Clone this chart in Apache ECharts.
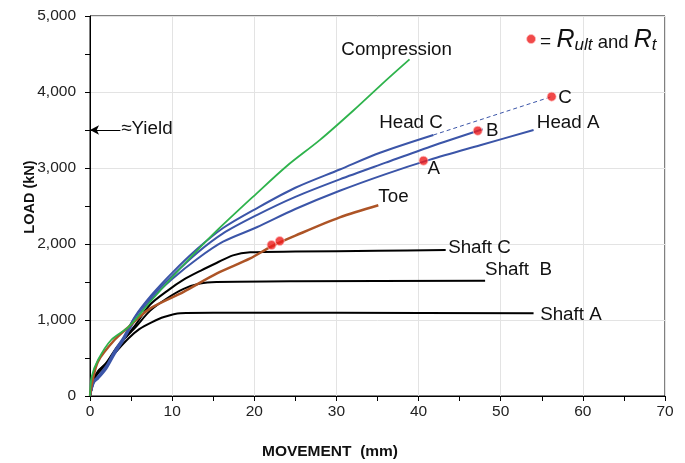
<!DOCTYPE html>
<html>
<head>
<meta charset="utf-8">
<script src="https://cdn.jsdelivr.net/npm/echarts@6/dist/echarts.min.js"></script>
<style>
html,body{margin:0;padding:0;background:#fff;}
#c{width:685px;height:463px;}
</style>
</head>
<body>
<div id="c"></div>
<script>
// ---- data (movement mm, load kN) ----
var compression = [[0,0],[0.2,250],[1,480],[2.6,740],[4.7,910],[7.5,1260],[11.6,1750],[15,2130],[20.3,2667],[24,3030],[28,3370],[32.1,3760],[36.1,4160],[38.9,4430]];
var headC = [[0,0],[0.5,200],[1,260],[2,400],[3,600],[4,760],[5.5,1050],[7.5,1330],[10,1620],[13,1930],[16.2,2210],[20.3,2470],[25,2740],[30.4,2980],[35.3,3200],[41.8,3434]];
var headCExt = [[41.8,3434],[56.2,3939]];
var headB = [[0,0],[0.5,200],[1,250],[2,380],[3,580],[4,740],[5.5,1040],[7.5,1310],[10,1580],[13,1880],[16.2,2140],[20.3,2380],[25,2620],[30.4,2850],[36,3070],[41.4,3280],[47.8,3510]];
var headA = [[0,0],[0.5,180],[1,230],[2,360],[3,550],[4,720],[5.5,1000],[7.5,1280],[10,1540],[13,1800],[16.2,2030],[20.3,2220],[25,2460],[30.4,2700],[36,2920],[41.4,3110],[47.5,3300],[54,3500]];
var toe = [[0,0],[0.3,200],[1,460],[3,740],[4.7,910],[7.3,1150],[11.4,1370],[15.4,1610],[19.5,1810],[22.1,1970],[25,2110],[30.4,2350],[35.1,2510]];
var shaftC = [[0,0],[0.5,230],[1,330],[2,430],[3.4,650],[5.5,930],[7.3,1200],[9.5,1390],[11.4,1530],[13.5,1650],[15.4,1750],[17.4,1850],[19.5,1890],[25,1900],[35,1910],[43.3,1920]];
var shaftB = [[0,0],[0.5,220],[1,320],[2,440],[3.4,660],[5.5,900],[7.3,1120],[9.3,1280],[11.4,1410],[13.4,1480],[15.4,1500],[25,1510],[48.1,1515]];
var shaftA = [[0,0],[0.5,220],[1,300],[2,420],[3,560],[4.7,760],[6,880],[7.5,970],[9,1040],[11,1090],[15,1095],[30,1095],[54,1090]];
var ultimatePoints = [[40.6,3096],[47.2,3490],[56.2,3939],[22.1,1987],[23.1,2039]];
var yieldLoad = 3500;
var yieldArrowStart = 3.7;
var xTicks = {min:0, max:70, interval:10};
var yTicks = {min:0, max:5000, interval:1000};
// annotation text anchors (data units: left edge, vertical middle)
var annotations = [
  {text:'Compression', at:[30.6,4553]},
  {text:'Head C', at:[35.2,3592]},
  {text:'Head A', at:[54.4,3592]},
  {text:'A', at:[41.1,2990]},
  {text:'B', at:[48.2,3487]},
  {text:'C', at:[57.0,3921]},
  {text:'Toe', at:[35.1,2618]},
  {text:'Shaft C', at:[43.6,1947]},
  {text:'Shaft  B', at:[48.1,1658]},
  {text:'Shaft A', at:[54.8,1066]},
  {text:'\u2248Yield', at:[3.8,3513]}
];
var legendAt = [53.7, 4697];

var FONT = '"Liberation Sans", Arial, sans-serif';
var BLUE = '#3b55a8', GREEN = '#2eb34c', BROWN = '#ad5426', RED = '#ee1c1c';

function lineSeries(name, data, color, width, extra) {
  var s = {name:name, type:'line', data:data, showSymbol:false, symbol:'none', smooth:0.3,
    lineStyle:{color:color, width:width}, z:3, silent:true, animation:false};
  for (var k in extra) s[k] = extra[k];
  return s;
}

var chart = echarts.init(document.getElementById('c'), null, {renderer:'canvas'});
var option = {
  animation:false,
  backgroundColor:'#fff',
  grid:{left:90, right:20, top:16, bottom:67, show:true, borderColor:'#000', borderWidth:1, backgroundColor:'transparent'},
  xAxis:{type:'value', min:xTicks.min, max:xTicks.max, interval:xTicks.interval,
    axisLine:{show:true, onZero:false, lineStyle:{color:'#000', width:1}},
    axisTick:{show:true, length:5, lineStyle:{color:'#000'}},
    minorTick:{show:true, splitNumber:2, length:5, lineStyle:{color:'#000'}},
    axisLabel:{color:'#222', fontSize:15.5, fontFamily:FONT, margin:8},
    splitLine:{show:true, lineStyle:{color:'#e3e3e3', width:1}}},
  yAxis:{type:'value', min:yTicks.min, max:yTicks.max, interval:yTicks.interval,
    axisLine:{show:true, onZero:false, lineStyle:{color:'#000', width:1}},
    axisTick:{show:true, length:5, lineStyle:{color:'#000'}},
    minorTick:{show:true, splitNumber:2, length:5, lineStyle:{color:'#000'}},
    axisLabel:{color:'#222', fontSize:15.5, fontFamily:FONT, margin:14,
      formatter:function(v){return v.toLocaleString('en-US');}},
    splitLine:{show:true, lineStyle:{color:'#e3e3e3', width:1}}},
  series:[
    lineSeries('Shaft A', shaftA, '#000', 2),
    lineSeries('Shaft B', shaftB, '#000', 2),
    lineSeries('Shaft C', shaftC, '#000', 2),
    lineSeries('Head A', headA, BLUE, 2),
    lineSeries('Head B', headB, BLUE, 2),
    lineSeries('Head C', headC, BLUE, 2),
    lineSeries('Head C ext', headCExt, BLUE, 1, {smooth:false, lineStyle:{color:BLUE, width:1, type:[4,3]}}),
    lineSeries('Toe', toe, BROWN, 2.5),
    lineSeries('Compression', compression, GREEN, 1.8),
    {name:'Yield', type:'line', data:[], silent:true,
      markLine:{silent:true, symbol:['none','arrow'], symbolSize:[7,9], label:{show:false},
        lineStyle:{color:'#000', width:1, type:'solid'},
        data:[[{coord:[yieldArrowStart, yieldLoad]},{coord:[0, yieldLoad]}]]}},
    {name:'Rult', type:'scatter', data:ultimatePoints.concat([legendAt]), symbolSize:9, z:5, silent:true,
      itemStyle:{color:RED, borderColor:'rgba(255,190,190,0.9)', borderWidth:1}}
  ]
};
chart.setOption(option);

var graphics = [];
annotations.forEach(function(a){
  var p = chart.convertToPixel({gridIndex:0}, a.at);
  graphics.push({type:'text', x:p[0], y:p[1], silent:true, z:10,
    style:{text:a.text, fill:'#111', font:'18.8px ' + FONT, textAlign:'left', textVerticalAlign:'middle'}});
});
var lp = chart.convertToPixel({gridIndex:0}, legendAt);
graphics.push({type:'text', x:lp[0] + 9, y:lp[1] + 1, silent:true, z:10,
  style:{text:'{eq|= }{R|R}{s|ult}{n| and }{R|R}{s|t}', textAlign:'left', textVerticalAlign:'middle',
    rich:{
      eq:{fontSize:19, fontFamily:FONT, fill:'#111', lineHeight:28, verticalAlign:'middle', padding:[3,0,0,0]},
      R:{fontSize:25, fontStyle:'italic', fontFamily:FONT, fill:'#111', lineHeight:28, verticalAlign:'middle'},
      s:{fontSize:17, fontStyle:'italic', fontFamily:FONT, fill:'#111', lineHeight:28, verticalAlign:'bottom', padding:[10,0,0,0]},
      n:{fontSize:18.5, fontFamily:FONT, fill:'#111', lineHeight:28, verticalAlign:'middle', padding:[5,0,0,0]}
    }}});
graphics.push({type:'text', x:330, y:452, silent:true,
  style:{text:'MOVEMENT  (mm)', font:'bold 15.5px ' + FONT, fill:'#111', textAlign:'center', textVerticalAlign:'middle'}});
graphics.push({type:'text', x:30, y:197, rotation:Math.PI/2, silent:true,
  style:{text:'LOAD (kN)', font:'bold 14.5px ' + FONT, fill:'#111', textAlign:'center', textVerticalAlign:'middle'}});
chart.setOption({graphic:graphics});
</script>
</body>
</html>
